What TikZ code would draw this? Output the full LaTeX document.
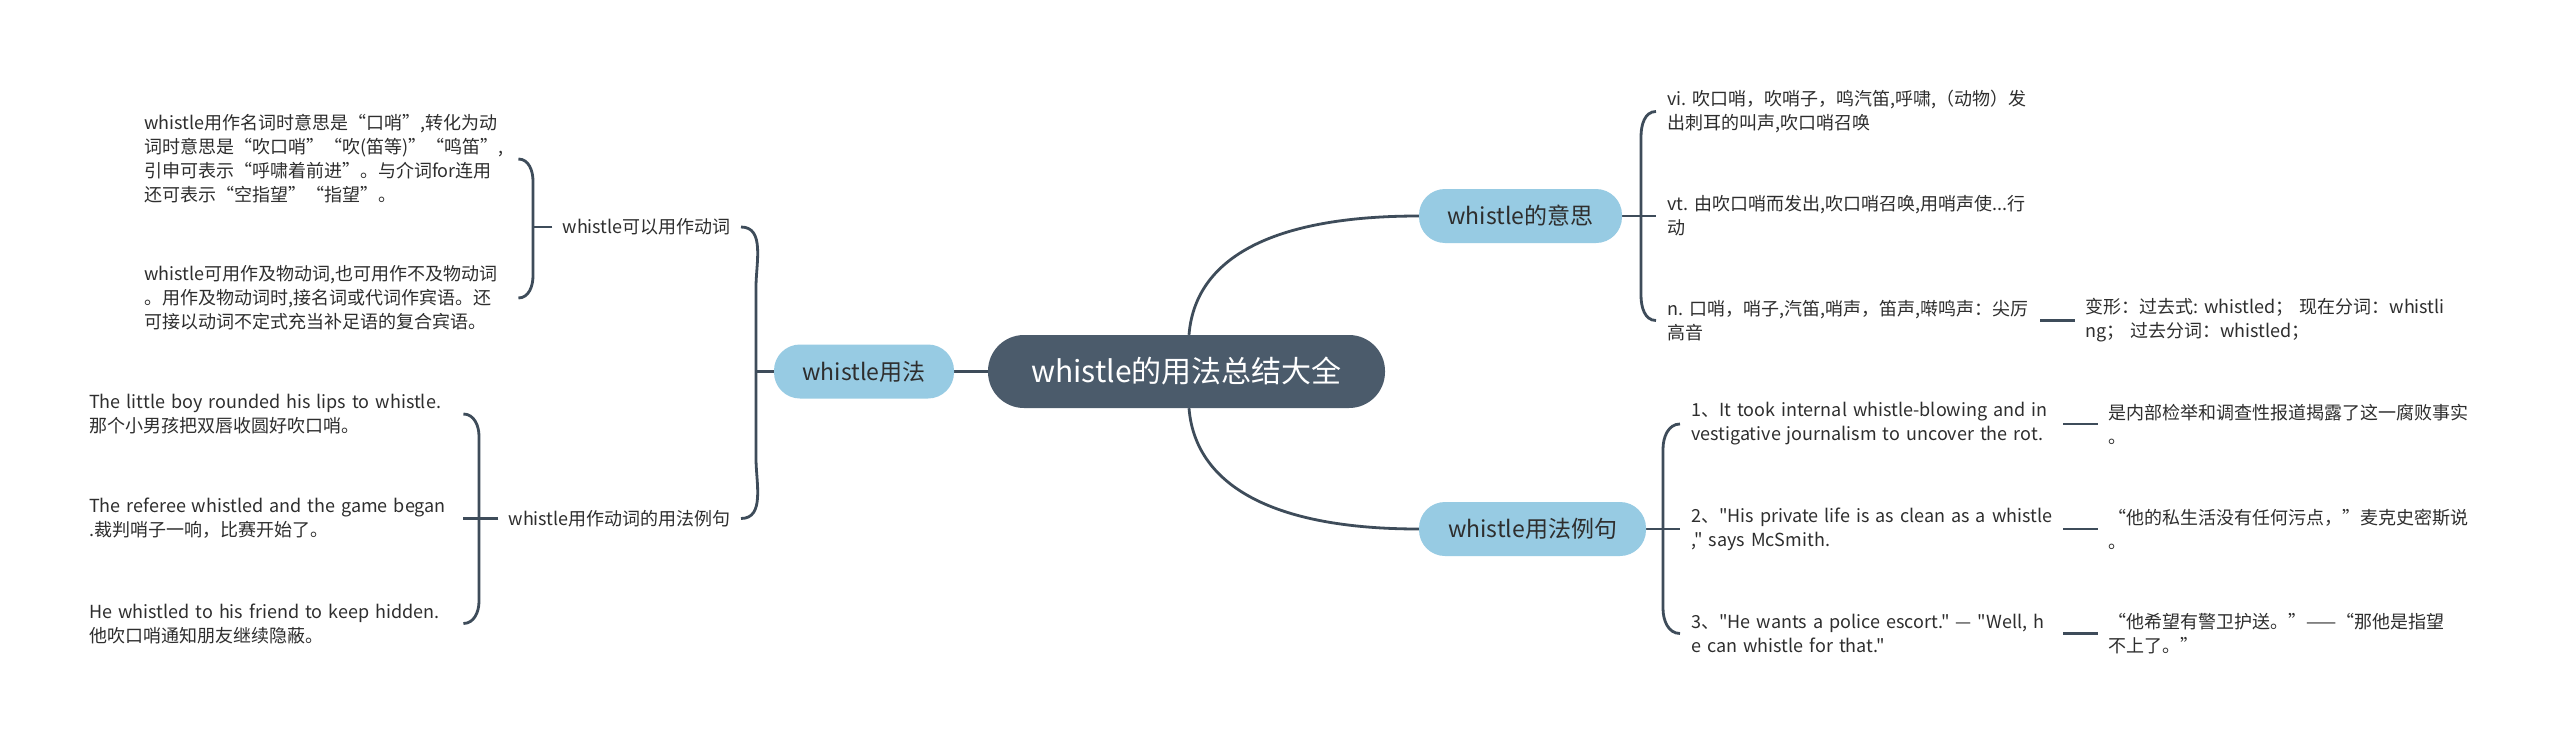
\documentclass[tikz,border=0pt]{standalone}
\usepackage{fontspec}
\newfontfamily\cjkf{Noto Sans CJK SC}
\usetikzlibrary{calc}
\definecolor{lineC}{HTML}{3E4C5A}
\definecolor{rootC}{HTML}{4B5B6B}
\definecolor{blueC}{HTML}{97CBE3}
\definecolor{txtC}{HTML}{2E2E2E}
\pgfdeclarelayer{background}
\pgfsetlayers{background,main}
\begin{document}
\begin{tikzpicture}[x=1pt,y=1pt,
  conn/.style={draw=lineC,line width=2.8pt},
  rootnode/.style={fill=rootC,draw=none,rounded corners=36pt,minimum height=73pt,text=white,font=\cjkf\fontsize{30}{36}\selectfont,inner sep=0pt},
  mainnode/.style={fill=blueC,draw=none,rounded corners=26pt,minimum height=54pt,text=txtC,font=\cjkf\fontsize{23}{28}\selectfont,inner sep=0pt},
  leaf/.style={text=txtC,font=\cjkf\fontsize{18}{24}\selectfont,align=left,inner ysep=2pt,
    execute at begin node={\hyphenpenalty=10000\exhyphenpenalty=10000}},
  lleaf/.style={leaf,anchor=west,inner xsep=0pt,text width=374pt},
  rleaf/.style={leaf,anchor=west,inner xsep=11pt,text width=362pt},
  tleaf/.style={leaf,anchor=west,inner xsep=10pt,text width=380pt},
]
\useasboundingbox (0,0) rectangle (2560,-744);

% main nodes
\node[rootnode,minimum width=397pt] (R) at (1186.5,-371.5) {whistle的用法总结大全};
\node[mainnode,minimum width=180pt] (A) at (864,-371.5) {whistle用法};
\node[mainnode,minimum width=203pt] (B) at (1520.5,-216) {whistle的意思};
\node[mainnode,minimum width=227pt] (C) at (1532.5,-529) {whistle用法例句};

% left subtree
\node[leaf,anchor=east,inner xsep=10pt] (v1) at (741,-227) {whistle可以用作动词};
\node[leaf,anchor=east,inner xsep=10pt] (v2) at (741,-518.5) {whistle用作动词的用法例句};
\node[lleaf] (t1) at (144,-159) {whistle用作名词时意思是“口哨”,转化为动\\词时意思是“吹口哨”“吹(笛等)”“鸣笛”,\\引申可表示“呼啸着前进”。与介词for连用\\还可表示“空指望”“指望”。};
\node[lleaf] (t2) at (144,-298) {whistle可用作及物动词,也可用作不及物动词\\。用作及物动词时,接名词或代词作宾语。还\\可接以动词不定式充当补足语的复合宾语。};
\node[lleaf,anchor=west] (e1) at (89,-414) {The~little~boy~rounded~his~lips~to~whistle.\\那个小男孩把双唇收圆好吹口哨。};
\node[lleaf,anchor=west] (e2) at (89,-518.5) {The~referee~whistled~and~the~game~began\\.裁判哨子一响，比赛开始了。};
\node[lleaf,anchor=west] (e3) at (89,-623.5) {He~whistled~to~his~friend~to~keep~hidden.\\他吹口哨通知朋友继续隐蔽。};

% right upper subtree
\node[rleaf] (c1) at (1656,-111.5) {vi.~吹口哨，吹哨子，鸣汽笛,呼啸,（动物）发\\出刺耳的叫声,吹口哨召唤};
\node[rleaf] (c2) at (1656,-216) {vt.~由吹口哨而发出,吹口哨召唤,用哨声使...行\\动};
\node[rleaf] (c3) at (1656,-320.5) {n.~口哨，哨子,汽笛,哨声，笛声,啭鸣声：尖厉\\高音};
\node[tleaf] (d1) at (2075,-320.5) {变形：过去式:~whistled；~现在分词：whistli\\ng；~过去分词：whistled；};

% right lower subtree
\node[rleaf,text width=361pt] (x1) at (1680,-424) {1、It~took~internal~whistle-blowing~and~in\\vestigative~journalism~to~uncover~the~rot.};
\node[rleaf,text width=361pt] (x2) at (1680,-529) {2、"His~private~life~is~as~clean~as~a~whistle\\,"~says~McSmith.};
\node[rleaf,text width=361pt] (x3) at (1680,-633.5) {3、"He~wants~a~police~escort."~—~"Well,~h\\e~can~whistle~for~that."};
\node[tleaf] (y1) at (2098,-424) {是内部检举和调查性报道揭露了这一腐败事实\\。};
\node[tleaf] (y2) at (2098,-529) {“他的私生活没有任何污点，”麦克史密斯说\\。};
\node[tleaf] (y3) at (2098,-633.5) {“他希望有警卫护送。”——“那他是指望\\不上了。”};

% spine coordinates
\coordinate (sA) at (756,-371.5);
\coordinate (s1) at (533,-227);
\coordinate (s2) at (479,-518.5);
\coordinate (sB) at (1641,-216);
\coordinate (sC) at (1663,-529);

\begin{pgfonlayer}{background}
\fill[white] (0,0) rectangle (2560,-744);
% root connectors
\draw[conn] (A.east) -- (R.west);
\draw[conn] ($(R.north)+(2.5,0)$) .. controls +(6,75) and +(-150,0) .. (B.west);
\draw[conn] ($(R.south)+(2.5,0)$) .. controls +(6,-75) and +(-150,0) .. (C.west);
% left big bracket
\draw[conn] (A.west) -- (sA);
\draw[conn] (v1.east) to[out=0,in=90] ($(v1.east -| sA)+(0,-60)$) -- ($(v2.east -| sA)+(0,60)$) to[out=-90,in=0] (v2.east);
% v1 bracket
\draw[conn] (v1.west) -- (s1);
\draw[conn] (t1.east) to[out=0,in=90] ($(t1.east -| s1)+(0,-22)$) -- ($(t2.east -| s1)+(0,22)$) to[out=-90,in=0] (t2.east);
% v2 bracket
\draw[conn] (v2.west) -- (e2.east);
\draw[conn] (e1.east) to[out=0,in=90] ($(e1.east -| s2)+(0,-22)$) -- ($(e3.east -| s2)+(0,22)$) to[out=-90,in=0] (e3.east);
% B bracket
\draw[conn] (B.east) -- (c2.west);
\draw[conn] (c1.west) to[out=180,in=90] ($(c1.west -| sB)+(0,-25)$) -- ($(c3.west -| sB)+(0,25)$) to[out=-90,in=180] (c3.west);
\draw[conn] (c3.east) -- (d1.west);
% C bracket
\draw[conn] (C.east) -- (x2.west);
\draw[conn] (x1.west) to[out=180,in=90] ($(x1.west -| sC)+(0,-25)$) -- ($(x3.west -| sC)+(0,25)$) to[out=-90,in=180] (x3.west);
\draw[conn] (x1.east) -- (y1.west);
\draw[conn] (x2.east) -- (y2.west);
\draw[conn] (x3.east) -- (y3.west);
\end{pgfonlayer}
\end{tikzpicture}
\end{document}
